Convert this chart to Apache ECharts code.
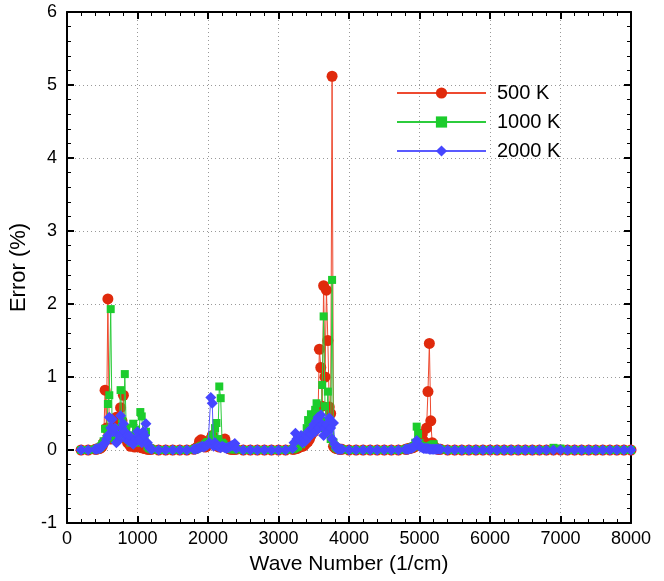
<!DOCTYPE html>
<html><head><meta charset="utf-8">
<script src="https://cdn.jsdelivr.net/npm/echarts@6/dist/echarts.min.js"></script>
<style>html,body{margin:0;padding:0;background:#fff}#c{width:664px;height:581px}</style>
</head><body><div id="c"></div>
<script>
// Wave numbers (1/cm): coarse in flat regions, finer around the active bands
const waveNumbers = [
  200, 300,
  400,420,440,460,480,500,520,540,560,580,600,620,640,660,680,700,720,740,760,780,800,820,840,860,880,900,920,940,960,980,1000,1020,1040,1060,1080,1100,1120,1140,1160,1180,1200,
  1300,1400,1500,1600,1700,
  1800,1820,1840,1860,1880,1900,1920,1940,1960,1980,2000,2020,2040,2060,2080,2100,2120,2140,2160,2180,2200,2220,2240,2260,2280,2300,2320,2340,2360,2380,2400,
  2500,2600,2700,2800,2900,3000,3100,
  3200,3220,3240,3260,3280,3300,3320,3340,3360,3380,3400,3420,3440,3460,3480,3500,3520,3540,3560,3580,3600,3620,3640,3660,3680,3700,3720,3740,3760,3780,3800,3820,3840,3860,3880,3900,
  4000,4100,4200,4300,4400,4500,4600,4700,
  4800,4820,4840,4860,4880,4900,4920,4940,4960,4980,5000,5020,5040,5060,5080,5100,5120,5140,5160,5180,5200,5220,5240,5260,5280,5300,
  5400,5500,5600,5700,5800,5900,6000,6100,6200,6300,6400,6500,6600,6700,6800,6900,7000,7100,7200,7300,7400,7500,7600,7700,7800,7900,8000
];
// Error (%) at 500 K
const err500K = [
  0, 0,
  0.01,0.01,0.02,0.02,0.03,0.05,0.1,0.82,0.3,2.07,0.2,0.15,0.3,0.2,0.35,0.45,0.25,0.3,0.58,0.4,0.75,0.3,0.15,0.1,0.08,0.05,0.1,0.06,0.04,0.05,0.08,0.05,0.04,0.03,0.03,0.02,0.02,0.01,0.01,0.01,0.01,
  0,0,0,0,0,
  0.01,0.02,0.03,0.05,0.12,0.14,0.13,0.06,0.04,0.05,0.08,0.12,0.15,0.2,0.12,0.08,0.1,0.05,0.04,0.06,0.1,0.14,0.15,0.08,0.03,0.02,0.01,0.01,0.01,0.01,0.01,
  0,0,0,0,0,0,0,
  0.01,0.01,0.02,0.02,0.03,0.04,0.05,0.05,0.06,0.08,0.1,0.12,0.15,0.2,0.3,0.25,0.4,0.52,0.45,1.38,1.13,0.6,2.25,1.0,2.19,1.5,0.59,0.5,5.12,0.05,0.03,0.02,0.02,0.01,0.01,0.01,
  0,0,0,0,0,0,0,0,
  0.01,0.01,0.02,0.02,0.03,0.03,0.04,0.05,0.06,0.1,0.08,0.15,0.22,0.12,0.1,0.3,0.8,1.46,0.4,0.1,0.05,0.03,0.02,0.01,0.01,0.01,
  0,0,0,0,0,0,0,0,0,0,0,0,0,0,0,0,0,0,0,0,0,0,0,0,0,0,0
];
// Error (%) at 1000 K
const err1000K = [
  0, 0,
  0.01,0.01,0.02,0.03,0.05,0.08,0.12,0.29,0.15,0.63,0.75,1.93,0.3,0.2,0.15,0.25,0.2,0.3,0.82,0.4,0.2,1.04,0.3,0.15,0.18,0.1,0.2,0.36,0.15,0.28,0.1,0.2,0.52,0.46,0.2,0.15,0.25,0.05,0.03,0.02,0.01,
  0,0,0,0,0,
  0.01,0.01,0.02,0.03,0.04,0.05,0.06,0.05,0.08,0.1,0.11,0.08,0.15,0.2,0.12,0.3,0.37,0.15,0.87,0.71,0.1,0.08,0.05,0.04,0.03,0.05,0.02,0.01,0.01,0.01,0.01,
  0,0,0,0,0,0,0,
  0.01,0.02,0.03,0.04,0.05,0.1,0.08,0.12,0.15,0.2,0.3,0.41,0.3,0.49,0.35,0.45,0.55,0.64,0.4,0.5,0.3,0.89,1.83,0.6,0.4,0.8,0.3,0.15,2.33,0.1,0.05,0.03,0.02,0.01,0.01,0.01,
  0,0,0,0,0,0,0,0,
  0.01,0.01,0.02,0.02,0.03,0.04,0.05,0.1,0.32,0.22,0.1,0.06,0.05,0.04,0.03,0.03,0.04,0.05,0.06,0.07,0.08,0.03,0.02,0.01,0.01,0.01,
  0,0,0,0,0,0,0,0,0,0,0,0,0,0,0,0.03,0.02,0,0,0,0,0,0,0,0,0,0
];
// Error (%) at 2000 K
const err2000K = [
  0, 0,
  0.01,0.01,0.02,0.02,0.03,0.05,0.08,0.1,0.15,0.2,0.45,0.3,0.42,0.25,0.3,0.1,0.12,0.2,0.47,0.3,0.36,0.25,0.15,0.2,0.12,0.18,0.1,0.08,0.12,0.15,0.25,0.2,0.15,0.1,0.25,0.2,0.36,0.1,0.05,0.02,0.01,
  0,0,0,0,0,
  0.01,0.01,0.02,0.02,0.03,0.04,0.05,0.04,0.05,0.06,0.08,0.1,0.72,0.64,0.05,0.1,0.06,0.05,0.04,0.03,0.05,0.04,0.03,0.02,0.03,0.04,0.05,0.06,0.07,0.09,0.02,
  0,0,0,0,0,0,0,
  0.02,0.1,0.23,0.15,0.18,0.14,0.2,0.1,0.15,0.12,0.2,0.25,0.18,0.22,0.3,0.35,0.25,0.4,0.45,0.3,0.48,0.35,0.2,0.3,0.35,0.25,0.44,0.3,0.15,0.37,0.08,0.03,0.01,0.01,0.01,0.01,
  0,0,0,0,0,0,0,0,
  0.01,0.01,0.01,0.02,0.02,0.03,0.04,0.06,0.13,0.08,0.05,0.04,0.03,0.02,0.02,0.02,0.02,0.01,0.01,0.01,0.01,0.01,0.01,0.01,0.01,0.01,
  0,0,0,0,0,0,0,0,0,0,0,0,0,0,0,0,0,0,0,0,0,0,0,0,0,0,0
];
const seriesNames = ['500 K', '1000 K', '2000 K'];
const xTicks = [0, 8000, 1000];   // min, max, interval
const yTicks = [-1, 6, 1];

const FONT = 'Liberation Sans, Arial, Helvetica, sans-serif';
const zip = (ys) => waveNumbers.map((x, i) => [x, ys[i]]);
const plain = (v) => String(v);

const axisCommon = (show, margin) => ({
  axisLine: { show: true, onZero: false, lineStyle: { color: '#000', width: 2 } },
  axisTick: { show: true, inside: true, length: 7, lineStyle: { color: '#000', width: 2 } },
  minorTick: { show: true, splitNumber: 5, length: 4, lineStyle: { color: '#000', width: 1 } },
  axisLabel: { show: show, color: '#000', fontSize: 18, fontFamily: FONT, margin: margin || 8, formatter: plain },
});

const chart = echarts.init(document.getElementById('c'), null, { renderer: 'canvas' });
chart.setOption({
  animation: false,
  backgroundColor: '#fff',
  grid: { left: 67, right: 33, top: 12, bottom: 58, containLabel: false, outerBoundsMode: 'none' },
  legend: {
    orient: 'vertical', left: 391, top: 78,
    itemWidth: 89, itemHeight: 14, itemGap: 9,
    textStyle: { fontSize: 20, fontFamily: FONT, color: '#000', padding: [0, 0, 0, 6] },
    data: seriesNames
  },
  xAxis: [
    Object.assign({
      type: 'value', min: xTicks[0], max: xTicks[1], interval: xTicks[2],
      name: 'Wave Number (1/cm)', nameLocation: 'middle', nameGap: 31,
      nameTextStyle: { fontSize: 21, fontFamily: FONT, color: '#000' },
      splitLine: { show: true, lineStyle: { type: [1, 3], color: '#999', width: 1 } }
    }, axisCommon(true, 7)),
    Object.assign({
      type: 'value', min: xTicks[0], max: xTicks[1], interval: xTicks[2], position: 'top',
      splitLine: { show: false }
    }, axisCommon(false))
  ],
  yAxis: [
    Object.assign({
      type: 'value', min: yTicks[0], max: yTicks[1], interval: yTicks[2],
      name: 'Error (%)', nameLocation: 'middle', nameGap: 34,
      nameTextStyle: { fontSize: 22, fontFamily: FONT, color: '#000' },
      splitLine: { show: true, lineStyle: { type: [1, 3], color: '#999', width: 1 } }
    }, axisCommon(true, 10)),
    Object.assign({
      type: 'value', min: yTicks[0], max: yTicks[1], interval: yTicks[2], position: 'right',
      splitLine: { show: false }
    }, axisCommon(false))
  ],
  series: [
    {
      name: seriesNames[0], type: 'line', data: zip(err500K),
      symbol: 'circle', symbolSize: 11, showAllSymbol: true,
      itemStyle: { color: '#e02a0c' }, lineStyle: { color: '#ee4a30', width: 1 }, z: 2
    },
    {
      name: seriesNames[1], type: 'line', data: zip(err1000K),
      symbol: 'rect', symbolSize: 8, showAllSymbol: true,
      itemStyle: { color: '#1ccc2c' }, lineStyle: { color: '#2ccc3c', width: 1 }, z: 3
    },
    {
      name: seriesNames[2], type: 'line', data: zip(err2000K),
      symbol: 'diamond', symbolSize: 11, showAllSymbol: true,
      itemStyle: { color: '#4646ff' }, lineStyle: { color: '#5a5aff', width: 1 }, z: 4
    }
  ]
});
</script>
</body></html>
